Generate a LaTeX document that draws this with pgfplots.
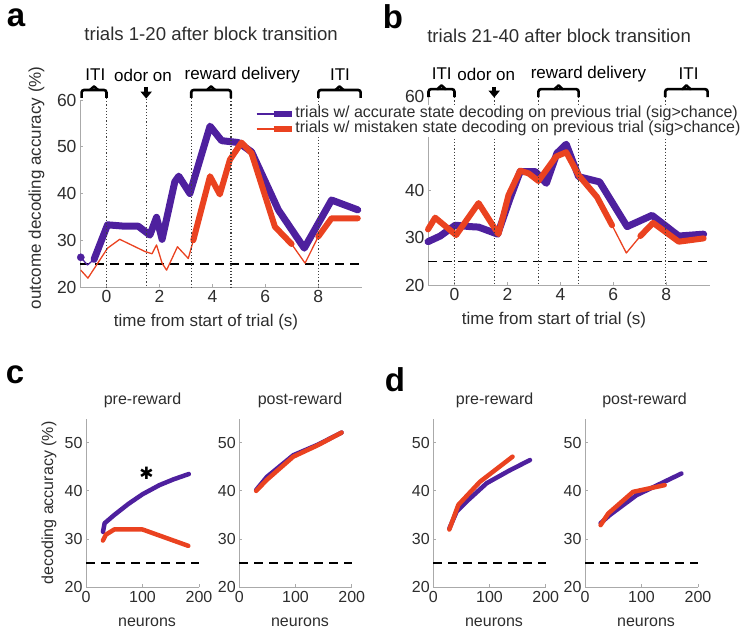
\documentclass[border=0pt]{standalone}
\usepackage{pgfplots}
\pgfplotsset{compat=1.18}
\usepackage{fontspec}
\setmainfont{Liberation Sans}
\newfontfamily\djv{DejaVu Sans}
\usetikzlibrary{arrows.meta}
\definecolor{pur}{RGB}{78,32,158}
\definecolor{myred}{RGB}{234,66,32}
\definecolor{axgray}{RGB}{170,170,170}
\definecolor{txt}{RGB}{45,45,45}
\tikzset{
 brk/.style={line width=2.6pt, rounded corners=2.5pt},
 bump/.style={line width=2.6pt, line join=round, line cap=round},
 vdot/.style={dotted, line width=1.2pt, black!75},
 darr/.style={-{Triangle[length=7pt,width=11pt]}, line width=3.5pt},
}
\pgfplotsset{
 base/.style={scale only axis, axis lines=left, axis line style={axgray, line width=0.8pt, -},
   tick style={axgray, line width=0.8pt}, major tick length=3pt, tick align=inside, clip=false,
   ticklabel style={text=txt}, /pgf/number format/assume math mode=true,
   label style={text=txt}, title style={text=txt}, anchor=south west},
 tp/.style={base, width=282pt, xmin=-1, xmax=9.65, ymin=20, ymax=60,
   xtick={0,2,4,6,8}, ytick={20,30,40,50,60},
   tick label style={font=\fontsize{17.5}{20}\selectfont},
   label style={font=\fontsize{17}{20}\selectfont},
   title style={font=\fontsize{18.6}{22}\selectfont, anchor=center},
   xlabel={time from start of trial (s)},
   xlabel style={at={(axis description cs:0.447,-0.187)}, anchor=center}},
 np/.style={base, width=113pt, height=168.7pt, xmin=0, xmax=200, ymin=20, ymax=55,
   xtick={0,100,200}, ytick={20,30,40,50},
   tick label style={font=\fontsize{16}{18}\selectfont},
   label style={font=\fontsize{16}{19}\selectfont},
   title style={font=\fontsize{16}{19}\selectfont, anchor=center},
   xlabel={neurons},
   xlabel style={at={(axis description cs:0.54,-0.206)}, anchor=center}},
 thin/.style={line width=1.3pt, line join=round},
 thk/.style={line width=7pt, line join=round, line cap=round},
 thr/.style={line width=6pt, line join=round, line cap=round},
 mid/.style={line width=4.5pt, line join=round, line cap=round},
 chance/.style={black, line width=1.8pt, dash pattern=on 9pt off 6pt},
}
\begin{document}
\begin{tikzpicture}
\useasboundingbox (0pt,0pt) rectangle (741pt,631pt);
% ---------------- panel b ----------------
\begin{axis}[tp, at={(428pt,346pt)}, height=188.3pt, ytick={20,30,40,60},
  title={trials 21-40 after block transition},
  title style={at={(axis description cs:0.465,1.29)}}]
\addplot[chance] coordinates {(-1,25) (9.6,25)};
\addplot[pur, thk] coordinates {(-1.0,29.2) (-0.54,30.4) (0.03,32.7) (0.59,32.4) (0.91,32.3) (1.63,30.8) (2.1,38.4) (2.48,44.1) (3.05,44.1) (3.47,41.6) (3.87,48.0) (4.22,49.9) (4.69,43.0) (5.48,41.9) (6.52,32.4) (7.46,34.8) (8.47,30.4) (9.41,30.8)};
\addplot[myred, thin] coordinates {(-1.0,31.8) (-0.73,34.3) (0.06,30.6) (0.91,37.4) (1.66,30.8) (2.04,39.1) (2.48,44.3) (2.8,43.7) (3.17,42.1) (3.84,47.3) (4.22,48.2) (4.69,43.3) (5.38,38.7) (5.95,32.7) (6.49,26.8) (7.02,30.4) (7.5,33.2) (8.47,29.2) (9.41,29.9)};
\addplot[myred, thr, unbounded coords=jump] coordinates {(-1.0,31.8) (-0.73,34.3) (0.06,30.6) (0.91,37.4) (1.66,30.8) (2.04,39.1) (2.48,44.3) (2.8,43.7) (3.17,42.1) (3.84,47.3) (4.22,48.2) (4.69,43.3) (5.38,38.7) (5.95,32.7) (6.2,nan) (7.02,30.4) (7.5,33.2) (8.47,29.2) (9.41,29.9)};
\draw[vdot] (axis cs:0,59.9) -- (axis cs:0,20);
\draw[vdot] (axis cs:1.5,59.9) -- (axis cs:1.5,20);
\draw[vdot] (axis cs:3.17,59.9) -- (axis cs:3.17,20);
\draw[vdot] (axis cs:4.69,59.9) -- (axis cs:4.69,20);
\draw[vdot] (axis cs:7.96,59.9) -- (axis cs:7.96,20);
\draw[brk] (axis cs:-0.98,59.9) -- (axis cs:-0.98,61.6) -- (axis cs:0,61.6) -- (axis cs:0,59.9);
\draw[bump] (axis cs:-0.64,61.6) -- (axis cs:-0.49,62.4) -- (axis cs:-0.34,61.6);
\draw[brk] (axis cs:3.17,59.9) -- (axis cs:3.17,61.6) -- (axis cs:4.69,61.6) -- (axis cs:4.69,59.9);
\draw[bump] (axis cs:3.78,61.6) -- (axis cs:3.93,62.4) -- (axis cs:4.08,61.6);
\draw[brk] (axis cs:7.96,59.9) -- (axis cs:7.96,61.6) -- (axis cs:9.56,61.6) -- (axis cs:9.56,59.9);
\draw[bump] (axis cs:8.61,61.6) -- (axis cs:8.76,62.4) -- (axis cs:8.91,61.6);
\draw[darr] (axis cs:1.5,62.1) -- (axis cs:1.5,59.8);
\begin{scope}[font=\fontsize{17}{20}\selectfont]
\node at (axis cs:-0.48,64.8) {ITI};
\node at (axis cs:1.2,64.8) {odor on};
\node at (axis cs:5.06,64.8) {reward delivery};
\node at (axis cs:8.84,64.8) {ITI};
\end{scope}
\end{axis}
% ---------------- panel a ----------------
\begin{axis}[tp, at={(80pt,344pt)}, height=187pt,
  title={trials 1-20 after block transition},
  title style={at={(axis description cs:0.465,1.32)}},
  ylabel={outcome decoding accuracy (\%)},
  ylabel style={at={(axis description cs:-0.154,0.53)}, anchor=center},
  legend style={at={(axis description cs:0.62,0.972)}, anchor=north west, draw=none, fill=white,
    inner xsep=1pt, inner ysep=1pt, font=\fontsize{16}{18}\selectfont, text=txt, row sep=0pt,
    nodes={inner ysep=0pt, inner xsep=1pt, text height=11.5pt, text depth=3.5pt}},
  legend cell align=left]
\addlegendimage{legend image code/.code={\draw[pur, line width=1.3pt] (0pt,0pt) -- (17pt,0pt); \draw[pur, line width=5.5pt] (17pt,0pt) -- (35pt,0pt);}}
\addlegendentry{trials w/ accurate state decoding on previous trial (sig>chance)}
\addlegendimage{legend image code/.code={\draw[myred, line width=1.3pt] (0pt,0pt) -- (17pt,0pt); \draw[myred, line width=5.5pt] (17pt,0pt) -- (35pt,0pt);}}
\addlegendentry{trials w/ mistaken state decoding on previous trial (sig>chance)}
\addplot[chance, forget plot] coordinates {(-1,25) (9.6,25)};
\addplot[pur, thin, forget plot] coordinates {(-0.97,26.35) (-0.72,24.7) (-0.47,25.9) (0.04,33.3) (0.69,33.0) (1.2,33.0) (1.64,31.1) (1.89,34.9) (2.10,30.2) (2.58,42.5) (2.73,43.7) (3.15,40.0) (3.91,54.4) (4.35,51.3) (4.98,50.9) (5.48,48.9) (6.49,36.5) (7.47,28.3) (8.5,38.6) (9.49,36.5)};
\addplot[pur, only marks, mark=*, mark size=3.6pt, forget plot] coordinates {(-0.97,26.35)};
\addplot[pur, thk, forget plot] coordinates {(-0.47,25.9) (0.04,33.3) (0.69,33.0) (1.2,33.0) (1.64,31.1) (1.89,34.9) (2.10,30.2) (2.58,42.5) (2.73,43.7) (3.15,40.0) (3.91,54.4) (4.35,51.3) (4.98,50.9) (5.48,48.9) (6.49,36.5) (7.47,28.3) (8.5,38.6) (9.49,36.5)};
\addplot[myred, thin, forget plot] coordinates {(-0.97,23.6) (-0.7,21.9) (0.04,28.3) (0.5,30.2) (1.45,27.6) (1.72,27.1) (1.89,29.0) (2.1,25.1) (2.27,23.6) (2.68,28.6) (3.09,26.1) (3.28,30.0) (3.91,43.7) (4.28,39.8) (4.66,47.2) (5.1,50.9) (5.48,48.6) (6.36,32.9) (6.99,29.2) (7.5,25.1) (8.0,30.8) (8.5,34.7) (9.49,34.7)};
\addplot[myred, thr, unbounded coords=jump, forget plot] coordinates {(3.28,30.0) (3.91,43.7) (4.28,39.8) (4.66,47.2) (5.1,50.9) (5.48,48.6) (6.36,32.9) (6.99,29.2) (7.5,nan) (8.0,30.8) (8.5,34.7) (9.49,34.7)};
\draw[vdot] (axis cs:0,60.43) -- (axis cs:0,20);
\draw[vdot] (axis cs:1.5,60.2) -- (axis cs:1.5,20);
\draw[vdot] (axis cs:3.2,60.43) -- (axis cs:3.2,20);
\draw[vdot] (axis cs:4.7,60.43) -- (axis cs:4.7,20);
\draw[vdot] (axis cs:8,60.43) -- (axis cs:8,20);
\draw[brk] (axis cs:-0.94,60.43) -- (axis cs:-0.94,62.14) -- (axis cs:0,62.14) -- (axis cs:0,60.43);
\draw[bump] (axis cs:-0.62,62.14) -- (axis cs:-0.47,62.9) -- (axis cs:-0.32,62.14);
\draw[brk] (axis cs:3.2,60.43) -- (axis cs:3.2,62.14) -- (axis cs:4.7,62.14) -- (axis cs:4.7,60.43);
\draw[bump] (axis cs:3.8,62.14) -- (axis cs:3.95,62.9) -- (axis cs:4.1,62.14);
\draw[brk] (axis cs:8,60.43) -- (axis cs:8,62.14) -- (axis cs:9.6,62.14) -- (axis cs:9.6,60.43);
\draw[bump] (axis cs:8.65,62.14) -- (axis cs:8.8,62.9) -- (axis cs:8.95,62.14);
\draw[darr] (axis cs:1.5,62.8) -- (axis cs:1.5,60.3);
\begin{scope}[font=\fontsize{17}{20}\selectfont]
\node at (axis cs:-0.42,65.35) {ITI};
\node at (axis cs:1.38,65.35) {odor on};
\node at (axis cs:5.13,65.35) {reward delivery};
\node at (axis cs:8.82,65.35) {ITI};
\end{scope}
\end{axis}
% ---------------- panel c ----------------
\begin{axis}[np, at={(86pt,43.7pt)}, title={pre-reward},
  title style={at={(axis description cs:0.5,1.075)}},
  ylabel={decoding accuracy (\%)},
  ylabel style={at={(axis description cs:-0.327,0.5)}, anchor=center}]
\addplot[chance] coordinates {(0,25) (200,25)};
\addplot[pur, mid] coordinates {(30,31.5) (33,33.3) (50,35.0) (75,37.3) (100,39.3) (130,41.2) (155,42.4) (182,43.5)};
\addplot[myred, mid] coordinates {(30,29.7) (35,30.9) (50,32.0) (100,32.0) (181,28.6)};
\node[font=\fontsize{17}{17}\selectfont\djv, inner sep=0pt] at (axis cs:107,43.65) {✱};
\end{axis}
\begin{axis}[np, at={(239.3pt,43.7pt)}, width=112.4pt, title={post-reward},
  title style={at={(axis description cs:0.54,1.075)}}]
\addplot[chance] coordinates {(0,25) (200,25)};
\addplot[pur, mid] coordinates {(30,40.2) (49,42.9) (96,47.4) (140,49.6) (182,52.1)};
\addplot[myred, mid] coordinates {(30,40.0) (49,42.3) (96,47.1) (140,49.5) (182,52.1)};
\end{axis}
% ---------------- panel d ----------------
\begin{axis}[np, at={(433.3pt,43.7pt)}, width=112.4pt, title={pre-reward},
  title style={at={(axis description cs:0.546,1.075)}}]
\addplot[chance] coordinates {(0,25) (200,25)};
\addplot[pur, mid] coordinates {(28.5,32.2) (41.5,35.7) (59.3,37.8) (95,41.6) (135,44.2) (172,46.4)};
\addplot[myred, mid] coordinates {(28.5,32.0) (44.5,37.1) (83,41.9) (141,47.1)};
\end{axis}
\begin{axis}[np, at={(585pt,43.7pt)}, title={post-reward},
  title style={at={(axis description cs:0.527,1.075)}}]
\addplot[chance] coordinates {(0,25) (200,25)};
\addplot[pur, mid] coordinates {(27.6,33.3) (44,35.0) (91,39.1) (130,41.3) (170.6,43.6)};
\addplot[myred, mid] coordinates {(27.6,32.9) (41,35.3) (85,39.8) (141,41.2)};
\end{axis}
% panel letters
\begin{scope}[font=\fontsize{33}{33}\selectfont\bfseries]
\node at (16pt,613pt) {a};
\node at (393pt,614pt) {b};
\node at (15pt,256pt) {c};
\node at (395pt,251pt) {d};
\end{scope}
\end{tikzpicture}
\end{document}
